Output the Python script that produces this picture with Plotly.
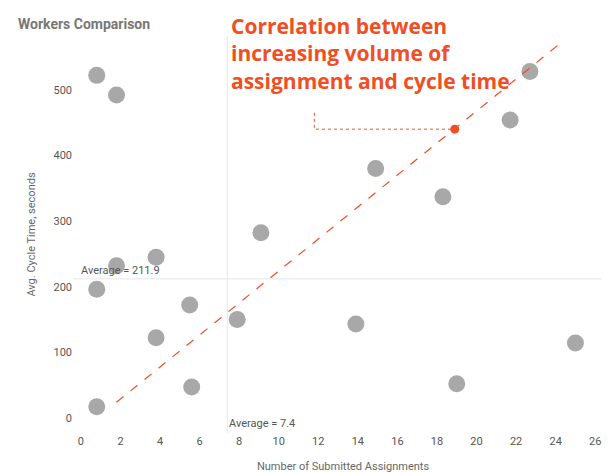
import plotly.graph_objects as go

# submitted assignments vs avg cycle time (seconds)
assignments = [0.8, 1.8, 1.8, 3.8, 0.8, 5.5, 3.8, 7.9, 9.1, 5.6, 0.8, 13.9, 14.9, 18.3, 19.0, 21.7, 22.7, 25.0]
cycle_time = [522, 492, 232, 245, 196, 172, 122, 150, 282, 47, 17, 143, 380, 337, 52, 454, 528, 114]
highlight_x = [18.9]
highlight_y = [440]
trend_x = [1.8, 24.2]
trend_y = [24, 570]
avg_x = 7.4
avg_y = 211.9

fig = go.Figure()
fig.add_trace(go.Scatter(x=assignments, y=cycle_time, mode="markers",
                         marker=dict(size=17, color="#a8a8a8"), hoverinfo="x+y"))
fig.add_trace(go.Scatter(x=trend_x, y=trend_y, mode="lines",
                         line=dict(color="#f04e23", width=1.2, dash="dash")))
fig.add_trace(go.Scatter(x=[11.8, 11.8, highlight_x[0]], y=[465, 440, 440], mode="lines",
                         line=dict(color="#f04e23", width=1, dash="dot")))
fig.add_trace(go.Scatter(x=highlight_x, y=highlight_y, mode="markers",
                         marker=dict(size=9, color="#f04e23")))

fig.add_shape(type="line", x0=avg_x, x1=avg_x, y0=-23, y1=582, line=dict(color="#e6e6e6", width=1))
fig.add_shape(type="line", x0=-0.4, x1=26.9, y0=avg_y, y1=avg_y, line=dict(color="#e6e6e6", width=1))
fig.add_annotation(x=-0.1, y=avg_y, text="Average = 211.9", showarrow=False,
                   xanchor="left", yanchor="bottom", font=dict(size=11, color="#555"))
fig.add_annotation(x=avg_x, y=-22, text="Average = 7.4", showarrow=False,
                   xanchor="left", yanchor="bottom", font=dict(size=11, color="#555"))
fig.add_annotation(x=7.5, yref="paper", y=1.065, text="<b>Correlation between<br>increasing volume of<br>assignment and cycle time</b>",
                   showarrow=False, xanchor="left", yanchor="top", align="left",
                   font=dict(size=21, color="#f04e23", family="Open Sans"))
fig.add_annotation(xref="paper", yref="paper", x=-0.105, y=1.005, text="<b>Workers Comparison</b>",
                   showarrow=False, xanchor="left", yanchor="bottom",
                   font=dict(size=14, color="#777"))

fig.update_layout(
    width=610, height=472, showlegend=False,
    margin=dict(l=65, r=5, t=28, b=47),
    plot_bgcolor="white", paper_bgcolor="white",
    font=dict(family="Roboto", size=11, color="#555"),
    xaxis=dict(range=[-0.4, 26.9], tickvals=list(range(0, 27, 2)), showgrid=False, zeroline=False,
               title=dict(text="Number of Submitted Assignments", font=dict(size=11, color="#666"))),
    yaxis=dict(range=[-23, 582], tickvals=[0, 100, 200, 300, 400, 500], showgrid=False, zeroline=False,
               title=dict(text="Avg. Cycle Time, seconds", font=dict(size=11, color="#666"))),
)
fig.write_html("out.html")
